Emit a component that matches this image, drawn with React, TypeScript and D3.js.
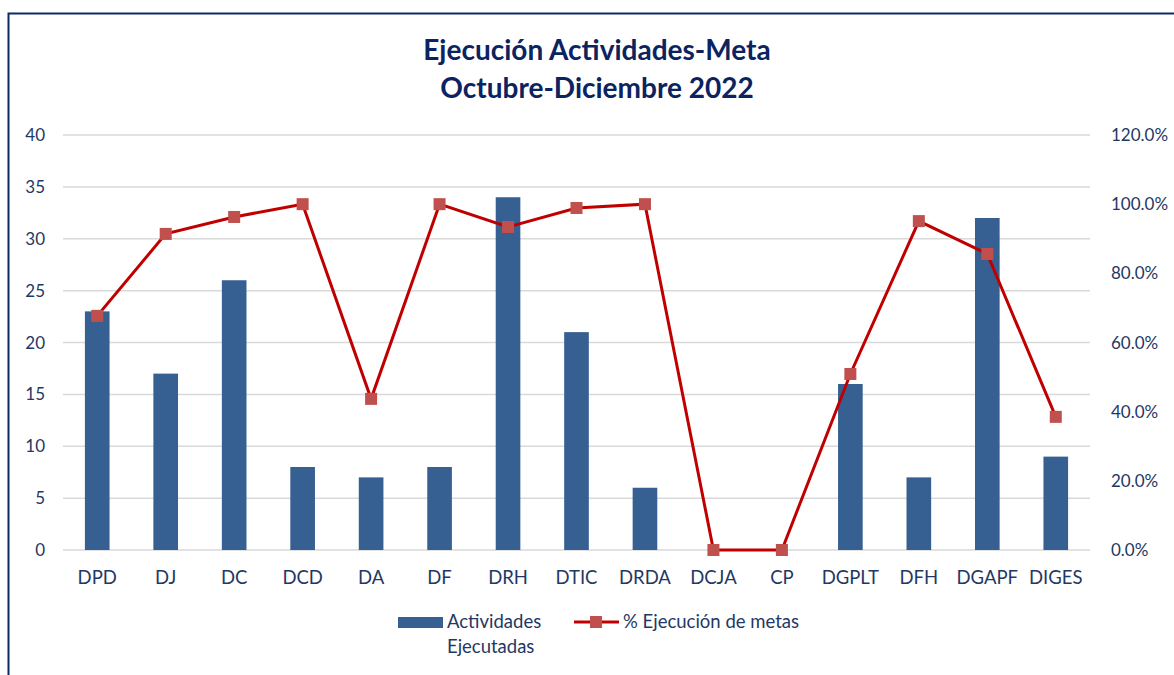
import React from 'react';
import * as d3 from 'd3';

const categories = ['DPD', 'DJ', 'DC', 'DCD', 'DA', 'DF', 'DRH', 'DTIC', 'DRDA', 'DCJA', 'CP', 'DGPLT', 'DFH', 'DGAPF', 'DIGES'];
const actividades = [23, 17, 26, 8, 7, 8, 34, 21, 6, 0, 0, 16, 7, 32, 9];
const ejecucion = [0.677, 0.914, 0.963, 1.0, 0.437, 1.0, 0.934, 0.989, 1.0, 0, 0, 0.509, 0.951, 0.856, 0.385];
const leftTicks = [0, 5, 10, 15, 20, 25, 30, 35, 40];
const rightTicks = [0, 0.2, 0.4, 0.6, 0.8, 1.0, 1.2];

const width = 1174;
const height = 675;
const margins = { top: 135, bottom: 125, left: 63, right: 84 };
const font = 'Lato, "Open Sans", sans-serif';
const navy = '#1F3864';

export default function App() {
    const plotW = width - margins.left - margins.right;
    const y0 = height - margins.bottom;

    const x = d3.scaleBand().domain(categories).range([margins.left, margins.left + plotW]).paddingInner(0.64).paddingOuter(0.32);
    const yLeft = d3.scaleLinear().domain([0, 40]).range([y0, margins.top]);
    const yRight = d3.scaleLinear().domain([0, 1.2]).range([y0, margins.top]);
    const cx = (c: string) => (x(c) as number) + x.bandwidth() / 2;

    const line = d3.line<number>()
        .x((_, i) => cx(categories[i]))
        .y(d => yRight(d));

    return (
        <svg width={width} height={height} style={{ position: 'absolute', left: 0, top: 0, background: '#fff' }}>
            {/* frame */}
            <rect x={8.5} y={13.5} width={1180} height={700} fill="none" stroke="#0E2A6B" strokeWidth={2} />

            {/* title */}
            <text x={597} y={60} textAnchor="middle" fontFamily={font} fontWeight={700} fontSize={28} fill="#0B2361">Ejecución Actividades-Meta</text>
            <text x={597} y={98} textAnchor="middle" fontFamily={font} fontWeight={700} fontSize={28} fill="#0B2361">Octubre-Diciembre 2022</text>

            {/* gridlines */}
            {leftTicks.map(t => (
                <line key={t} x1={margins.left} x2={margins.left + plotW} y1={yLeft(t)} y2={yLeft(t)} stroke="#D9D9D9" strokeWidth={1.5} />
            ))}

            {/* left axis labels */}
            {leftTicks.map(t => (
                <text key={t} x={45} y={yLeft(t) + 6} textAnchor="end" fontFamily={font} fontSize={17} fill={navy}>{t}</text>
            ))}

            {/* right axis labels */}
            {rightTicks.map(t => (
                <text key={t} x={1111} y={yRight(t) + 6} fontFamily={font} fontSize={17} fill={navy}>{d3.format('.1%')(t)}</text>
            ))}

            {/* bars */}
            {categories.map((c, i) => (
                <rect key={c} x={x(c)} y={yLeft(actividades[i])} width={x.bandwidth()} height={y0 - yLeft(actividades[i])} fill="#366092" />
            ))}

            {/* category labels */}
            {categories.map(c => (
                <text key={c} x={cx(c)} y={y0 + 34} textAnchor="middle" fontFamily={font} fontSize={18.5} fill={navy}>{c}</text>
            ))}

            {/* line */}
            <path d={line(ejecucion) || ''} fill="none" stroke="#C00000" strokeWidth={3} />
            {categories.map((c, i) => (
                <rect key={c} x={cx(c) - 6} y={yRight(ejecucion[i]) - 6} width={12} height={12} fill="#C0504D" />
            ))}

            {/* legend */}
            <rect x={398} y={617} width={45} height={11} fill="#366092" />
            <text x={447} y={628} fontFamily={font} fontSize={18.5} fill={navy}>Actividades</text>
            <text x={447} y={653} fontFamily={font} fontSize={18.5} fill={navy}>Ejecutadas</text>
            <line x1={574} x2={619} y1={622} y2={622} stroke="#C00000" strokeWidth={3} />
            <rect x={590} y={616} width={12} height={12} fill="#C0504D" />
            <text x={623} y={628} fontFamily={font} fontSize={18.5} fill={navy}>% Ejecución de metas</text>
        </svg>
    );
}
